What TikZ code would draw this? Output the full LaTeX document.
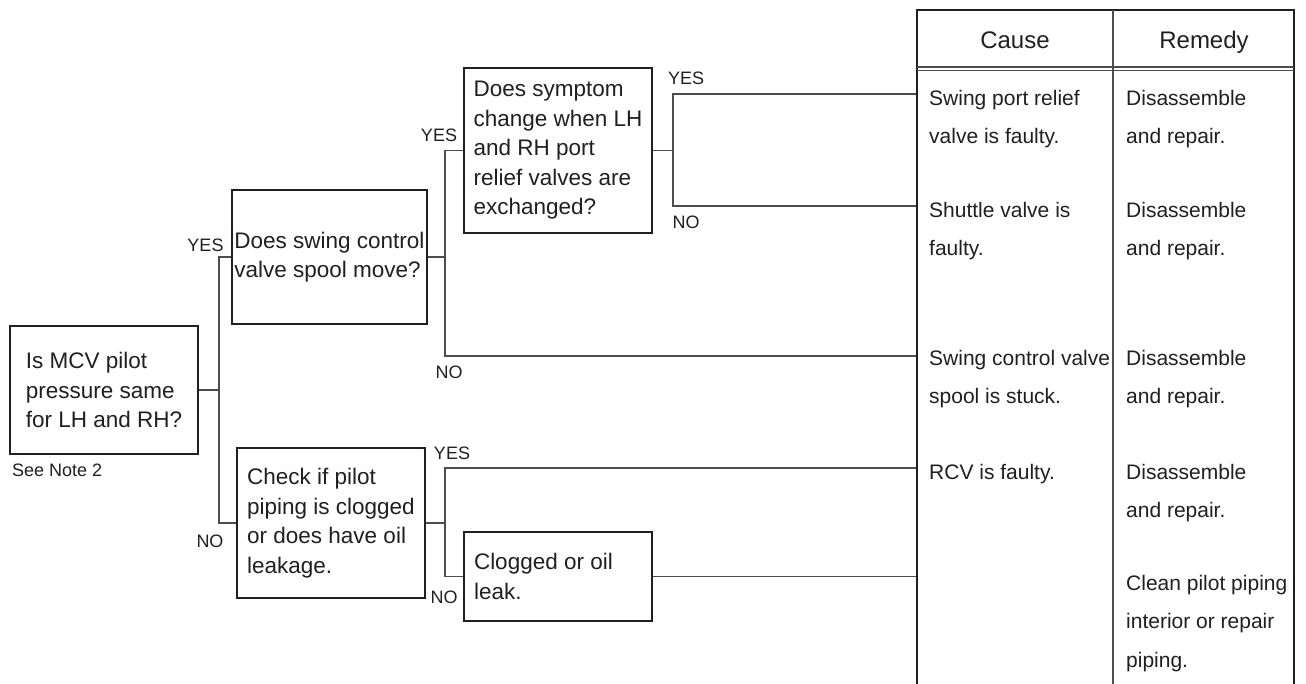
\documentclass[tikz,border=0pt]{standalone}
\usepackage{fontspec}
\setmainfont{Liberation Sans}
\usepackage{tikz}
\usetikzlibrary{positioning}
\definecolor{inkgray}{HTML}{231F20}
\definecolor{linegray}{HTML}{4D4D4D}

\begin{document}
\begin{tikzpicture}[x=1pt, y=-1pt,
	question/.style={draw=inkgray, line width=1.8pt, align=flush left, inner xsep=2pt, inner ysep=0pt, text=inkgray, font=\fontsize{22.5}{29.5}\selectfont},
	answer/.style={text=inkgray, inner sep=0pt, font=\fontsize{18}{20}\selectfont},
	heading/.style={anchor=base, text=inkgray, inner sep=0pt, font=\fontsize{24}{26}\selectfont},
	cell/.style={anchor=north west, align=flush left, inner sep=0pt, text=inkgray, font=\fontsize{21}{38.5}\selectfont},
	wire/.style={draw=linegray, line width=1.3pt}]
	\useasboundingbox[fill=white] (0,0) rectangle (1306,684);

	\begin{scope}[every node/.style={question}]
		\node[minimum width=188pt, minimum height=128pt] (mcv) at (104,390) {Is MCV pilot\\pressure same\\for LH and RH?};
		\node[minimum width=195pt, minimum height=134pt] (spool) at (329.5,257) {Does swing control\\valve spool move?};
		\node[minimum width=188pt, minimum height=165pt] (symptom) at (558,150.5) {Does symptom\\change when LH\\and RH port\\relief valves are\\exchanged?};
		\node[minimum width=188pt, minimum height=150pt] (piping) at (331,523) {Check if pilot\\piping is clogged\\or does have oil\\leakage.};
		\node[minimum height=89pt, text width=168pt, inner xsep=10pt] (clogged) at (558,576.5) {Clogged or oil\\leak.};
	\end{scope}

	\coordinate (jmcv) at ([xshift=20pt]mcv.east);
	\coordinate (jspool) at ([xshift=17pt]spool.east);
	\coordinate (jsym) at ([xshift=20pt]symptom.east);
	\coordinate (jpipe) at ([xshift=19pt]piping.east);
	\coordinate (r1) at (917,94);
	\coordinate (r2) at (917,206);
	\coordinate (r3) at (917,356);
	\coordinate (r4) at (917,468);
	\coordinate (r5) at (917,576.5);

	\begin{scope}[every path/.style={wire}]
		\draw (mcv.east) -- (jmcv);
		\draw (spool.west) -| (jmcv) |- (piping.west);
		\draw (spool.east) -- (jspool);
		\draw (symptom.west) -| (jspool) |- (r3);
		\draw (symptom.east) -- (jsym);
		\draw (r1) -| (jsym) |- (r2);
		\draw (piping.east) -- (jpipe);
		\draw (r4) -| (jpipe) |- (clogged.west);
		\draw (clogged.east) -- (r5);
	\end{scope}

	\begin{scope}[every node/.style={answer}]
		\node (yesmcv) at (205.5,245) {YES};
		\node (nomcv) at (210,541) {NO};
		\node (yesspool) at (439,135) {YES};
		\node (nospool) at (449,372) {NO};
		\node (yessym) at (686,78) {YES};
		\node (nosym) at (686,222) {NO};
		\node (yespipe) at (452,453) {YES};
		\node (nopipe) at (444,597) {NO};
		\node[anchor=west] (note) at (12,470) {See Note 2};
	\end{scope}

	\draw[inkgray, line width=1.8pt] (917,684) -- (917,10) -- (1294,10) -- (1294,684);
	\draw[wire] (1113,10) -- (1113,684);
	\draw[wire] (917,67) -- (1294,67);
	\draw[wire] (917,70.5) -- (1294,70.5);
	\node[heading] (cause) at (1015,48.5) {Cause};
	\node[heading] (remedy) at (1204,48.5) {Remedy};

	\begin{scope}[every node/.style={cell}]
		\node (c1) at (929,90) {Swing port relief\\valve is faulty.};
		\node (c2) at (929,202) {Shuttle valve is\\faulty.};
		\node (c3) at (929,350) {Swing control valve\\spool is stuck.};
		\node (c4) at (929,464) {RCV is faulty.};
		\node (m1) at (1126,90) {Disassemble\\and repair.};
		\node (m2) at (1126,202) {Disassemble\\and repair.};
		\node (m3) at (1126,350) {Disassemble\\and repair.};
		\node (m4) at (1126,464) {Disassemble\\and repair.};
		\node (m5) at (1126,575) {Clean pilot piping\\interior or repair\\piping.};
	\end{scope}
\end{tikzpicture}
\end{document}
